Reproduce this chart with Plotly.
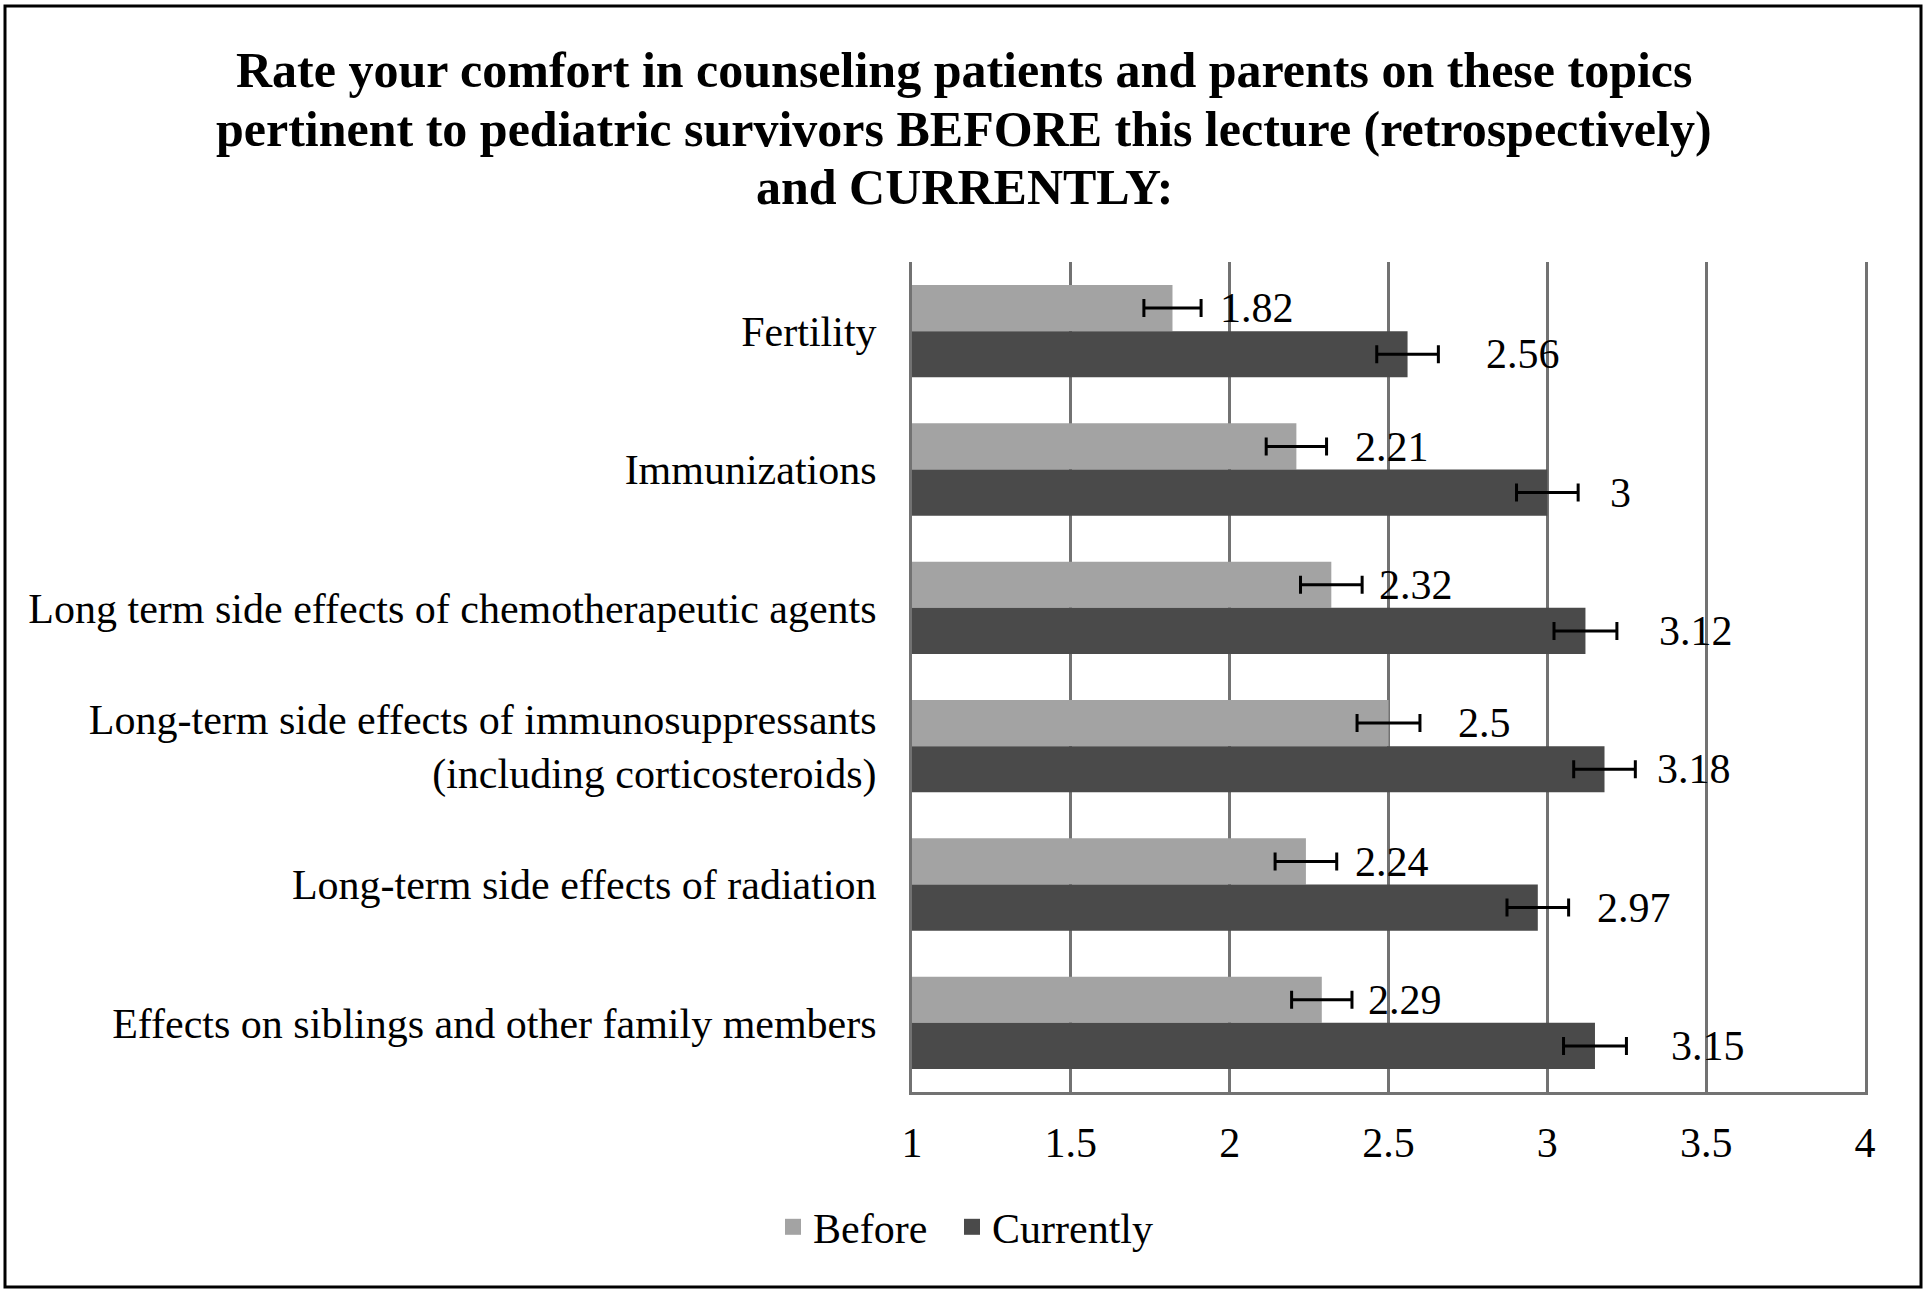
import plotly.graph_objects as go

categories = [
    "Fertility",
    "Immunizations",
    "Long term side effects of chemotherapeutic agents",
    "Long-term side effects of immunosuppressants<br>(including corticosteroids)",
    "Long-term side effects of radiation",
    "Effects on siblings and other family members",
]
before = [1.82, 2.21, 2.32, 2.5, 2.24, 2.29]
currently = [2.56, 3.0, 3.12, 3.18, 2.97, 3.15]
before_err = [0.09, 0.095, 0.097, 0.099, 0.097, 0.095]
currently_err = [0.097, 0.097, 0.099, 0.097, 0.097, 0.099]
before_labels = ["1.82", "2.21", "2.32", "2.5", "2.24", "2.29"]
currently_labels = ["2.56", "3", "3.12", "3.18", "2.97", "3.15"]
x_ticks = [1, 1.5, 2, 2.5, 3, 3.5, 4]
x_tick_text = ["1", "1.5", "2", "2.5", "3", "3.5", "4"]
title_lines = [
    "Rate your comfort in counseling patients and parents on these topics",
    "pertinent to pediatric survivors BEFORE this lecture (retrospectively)",
    "and CURRENTLY:",
]

# label offsets (px) to the right of bar end, as placed in the original
before_dx = [46, 57, 46, 67, 47, 44]
currently_dx = [76, 61, 72, 50, 57, 74]

FONT = "Liberation Serif, Times New Roman, serif"
FS = 42
BEFORE_COLOR = "#a3a3a3"
CURRENT_COLOR = "#4a4a4a"
GRID = "#727272"

fig = go.Figure()
fig.add_trace(go.Bar(
    name="Before", y=categories, x=before, orientation="h", showlegend=False,
    marker=dict(color=BEFORE_COLOR, line=dict(width=0)),
    error_x=dict(type="data", array=before_err, color="black", thickness=3, width=9),
))
fig.add_trace(go.Bar(
    name="Currently", y=categories, x=currently, orientation="h", showlegend=False,
    marker=dict(color=CURRENT_COLOR, line=dict(width=0)),
    error_x=dict(type="data", array=currently_err, color="black", thickness=3, width=9),
))
# legend entries with larger square swatches (one legend box each for spacing)
for name, col, leg in [("Before", BEFORE_COLOR, "legend"), ("Currently", CURRENT_COLOR, "legend2")]:
    fig.add_trace(go.Scatter(
        name=name, x=[None], y=[None], mode="markers",
        marker=dict(symbol="square", size=16, color=col, line=dict(width=0)),
        showlegend=True, legend=leg,
    ))

annotations = []
for i, c in enumerate(categories):
    annotations.append(dict(x=before[i], y=c, xref="x", yref="y", text=before_labels[i],
                            showarrow=False, xanchor="left", yanchor="middle",
                            xshift=before_dx[i], yshift=23,
                            font=dict(family=FONT, size=FS, color="black")))
    annotations.append(dict(x=currently[i], y=c, xref="x", yref="y", text=currently_labels[i],
                            showarrow=False, xanchor="left", yanchor="middle",
                            xshift=currently_dx[i], yshift=-23,
                            font=dict(family=FONT, size=FS, color="black")))

# title lines (pixel rows of their centres in the 1296-px figure)
title_y = [70, 129, 187]
for line, ty in zip(title_lines, title_y):
    annotations.append(dict(x=(964 - 912) / 953, y=(1092 - ty) / 830,
                            xref="paper", yref="paper",
                            text="<b>" + line + "</b>", showarrow=False,
                            xanchor="center", yanchor="middle",
                            font=dict(family=FONT, size=50, color="black")))

legend_common = dict(orientation="h", xanchor="left", xref="container",
                     y=1 - 1227 / 1296, yanchor="middle", yref="container",
                     font=dict(family=FONT, size=FS, color="black"),
                     traceorder="normal", itemwidth=30, bgcolor="rgba(0,0,0,0)")

fig.update_layout(
    width=1928, height=1296,
    margin=dict(l=912, r=63, t=262, b=204),
    paper_bgcolor="white", plot_bgcolor="white",
    font=dict(family=FONT, size=FS, color="black"),
    barmode="group", bargap=0.333, bargroupgap=0,
    xaxis=dict(range=[1, 4], tickvals=x_ticks, ticktext=x_tick_text,
               showgrid=True, gridcolor=GRID, gridwidth=3,
               showline=True, linecolor=GRID, linewidth=3,
               zeroline=False, ticks="", ticklabelstandoff=12,
               tickfont=dict(family=FONT, size=FS, color="black")),
    yaxis=dict(autorange="reversed", showline=True, linecolor=GRID, linewidth=3,
               mirror=True, showgrid=False, ticks="", ticklabelstandoff=24,
               tickfont=dict(family=FONT, size=FS, color="black")),
    legend=dict(x=773 / 1928, **legend_common),
    legend2=dict(x=952 / 1928, **legend_common),
    showlegend=True,
    annotations=annotations,
    shapes=[dict(type="rect", xref="paper", yref="paper",
                 x0=(5 - 912) / 953, x1=(1921 - 912) / 953,
                 y0=(1092 - 1287) / 830, y1=(1092 - 6) / 830,
                 line=dict(color="black", width=3), fillcolor="rgba(0,0,0,0)",
                 layer="below")],
)

fig.write_html("out.html", config={"displayModeBar": False},
               post_script="document.body.style.margin='0px';")
